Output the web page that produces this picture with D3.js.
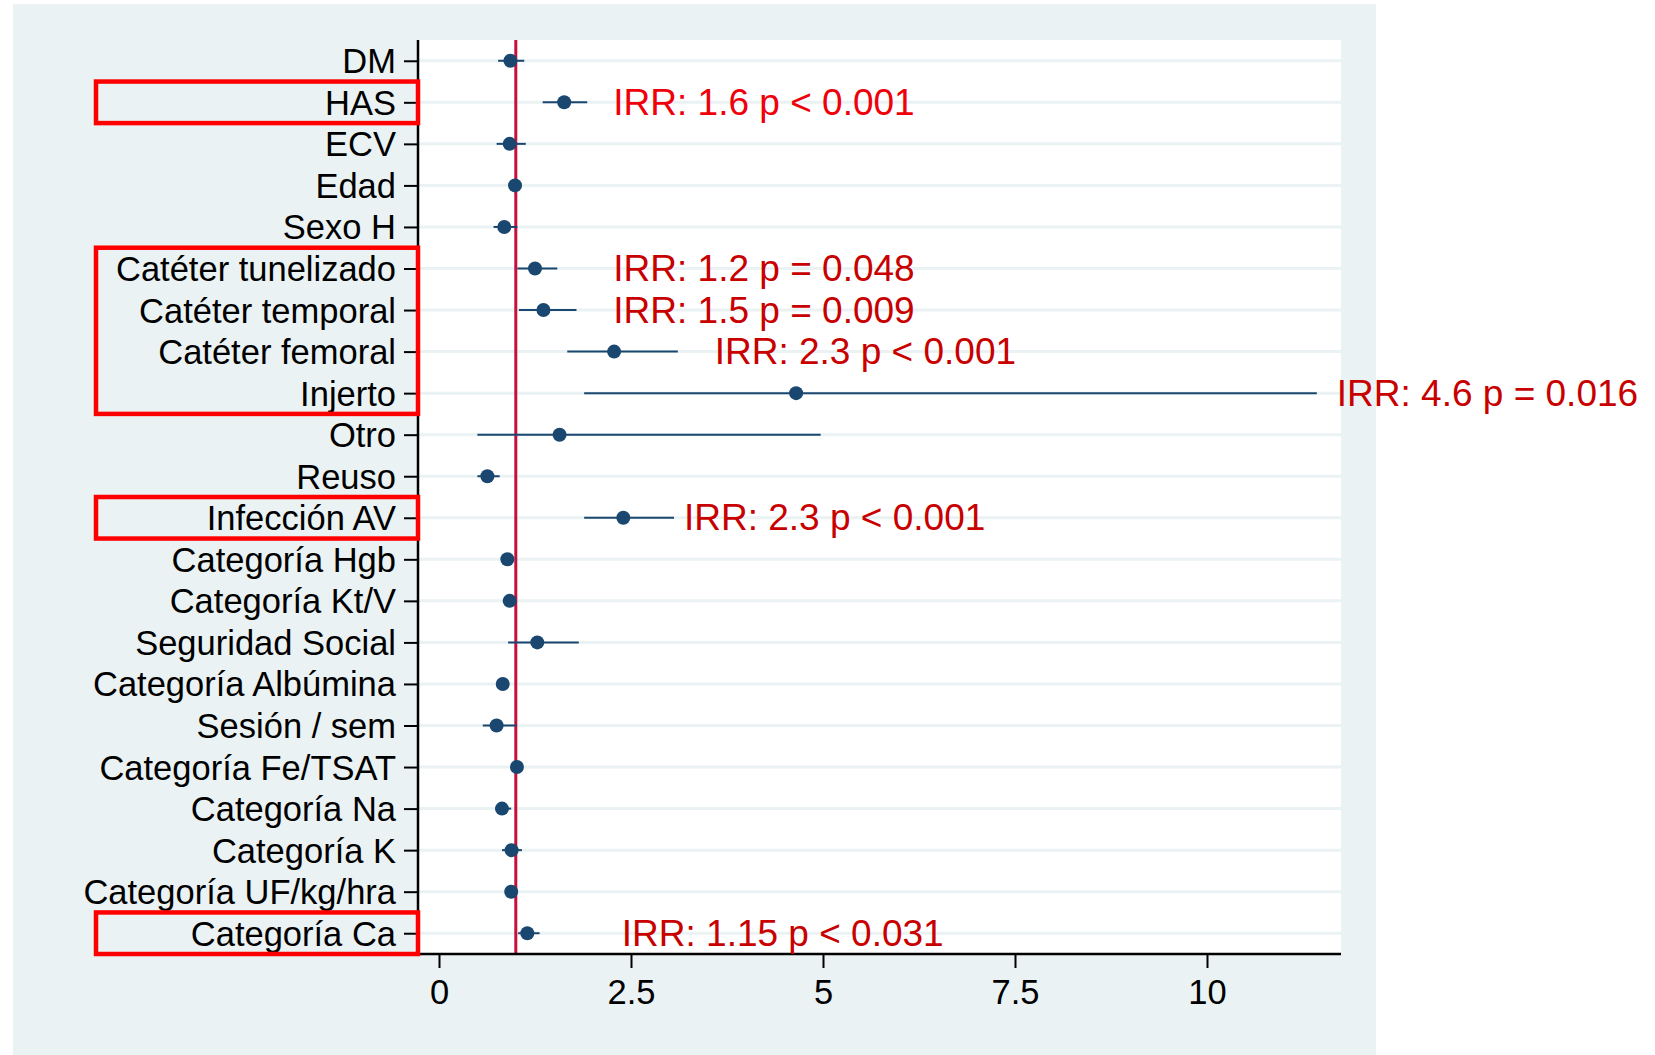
<!DOCTYPE html>
<html>
<head>
<meta charset="utf-8">
<script src="https://cdn.jsdelivr.net/npm/d3@7"></script>
<style>
    body { margin: 0; background: #ffffff; }
    text { font-family: "Liberation Sans", Arial, sans-serif; }
</style>
</head>
<body>
<svg id="chart" width="1655" height="1055"></svg>
<script>
// categories (top to bottom)
const categories = [
    "DM", "HAS", "ECV", "Edad", "Sexo H",
    "Catéter tunelizado", "Catéter temporal", "Catéter femoral", "Injerto", "Otro",
    "Reuso", "Infección AV", "Categoría Hgb", "Categoría Kt/V", "Seguridad Social",
    "Categoría Albúmina", "Sesión / sem", "Categoría Fe/TSAT", "Categoría Na",
    "Categoría K", "Categoría UF/kg/hra", "Categoría Ca"
];

// point estimates (IRR) and confidence limits
const irr = [0.93, 1.63, 0.92, 0.99, 0.85, 1.25, 1.36, 2.28, 4.65, 1.57, 0.63, 2.40,
    0.89, 0.92, 1.28, 0.83, 0.75, 1.015, 0.82, 0.945, 0.94, 1.15];
const lower = [0.77, 1.35, 0.75, 0.98, 0.71, 1.02, 1.04, 1.67, 1.89, 0.50, 0.50, 1.89,
    0.85, 0.87, 0.90, 0.80, 0.57, 1.00, 0.74, 0.82, 0.92, 1.03];
const upper = [1.11, 1.93, 1.13, 1.01, 1.02, 1.54, 1.79, 3.11, 11.43, 4.97, 0.79, 3.06,
    0.95, 0.98, 1.82, 0.88, 1.01, 1.03, 0.94, 1.08, 0.96, 1.31];

// x axis ticks
const xTicks = [0, 2.5, 5, 7.5, 10];

// annotations: category, text, x position (data units), colour
const noteRows = ["HAS", "Catéter tunelizado", "Catéter temporal", "Catéter femoral",
    "Injerto", "Infección AV", "Categoría Ca"];
const noteTexts = ["IRR: 1.6 p < 0.001", "IRR: 1.2 p = 0.048", "IRR: 1.5 p = 0.009",
    "IRR: 2.3 p < 0.001", "IRR: 4.6 p = 0.016", "IRR: 2.3 p < 0.001", "IRR: 1.15 p < 0.031"];
const noteX = [2.27, 2.27, 2.27, 3.59, 11.69, 3.19, 2.38];
const noteColors = ["#f0000a", "#c80000", "#c80000", "#c80000", "#c80000", "#c80000", "#c80000"];

// highlighted groups of rows: [first, last]
const boxGroups = [["HAS", "HAS"], ["Catéter tunelizado", "Injerto"],
    ["Infección AV", "Infección AV"], ["Categoría Ca", "Categoría Ca"]];

const svg = d3.select("#chart");

// plot region
const plotLeft = 418, plotRight = 1341, plotTop = 40, plotBottom = 954;

// graph background
svg.append("rect")
    .attr("x", 13).attr("y", 4)
    .attr("width", 1376 - 13).attr("height", 1055 - 4)
    .style("fill", "#eaf2f3");

svg.append("rect")
    .attr("x", plotLeft).attr("y", plotTop)
    .attr("width", plotRight - plotLeft).attr("height", plotBottom - plotTop)
    .style("fill", "#ffffff");

// scales
const xScale = d3.scaleLinear().domain([0, 10]).range([439, 1207]);
const yScale = d3.scalePoint().domain(categories).range([plotTop, plotBottom]).padding(0.5);
const step = yScale.step();

// grid lines
svg.append("g")
    .selectAll("line")
    .data(categories)
    .enter()
    .append("line")
    .attr("x1", plotLeft).attr("x2", plotRight)
    .attr("y1", (d) => yScale(d)).attr("y2", (d) => yScale(d))
    .style("stroke", "#eaf2f3")
    .style("stroke-width", 3);

// reference line at 1
svg.append("line")
    .attr("x1", xScale(1)).attr("x2", xScale(1))
    .attr("y1", plotTop).attr("y2", plotBottom)
    .style("stroke", "#c4103a")
    .style("stroke-width", 3);

// y axis
const yAxis = svg.append("g")
    .attr("transform", "translate(" + plotLeft + ",0)")
    .call(d3.axisLeft(yScale).tickSize(14).tickPadding(8));
yAxis.select(".domain").attr("d", "M0," + plotTop + "V" + plotBottom).style("stroke-width", 2.5);
yAxis.selectAll(".tick line").style("stroke-width", 2);
yAxis.selectAll(".tick text")
    .attr("dy", null)
    .attr("dominant-baseline", "central")
    .style("font-size", "34.5px")
    .style("fill", "#000");

// x axis
const xAxis = svg.append("g")
    .attr("transform", "translate(0," + plotBottom + ")")
    .call(d3.axisBottom(xScale).tickValues(xTicks).tickSize(14).tickPadding(12)
        .tickFormat((d) => String(d)));
xAxis.select(".domain").attr("d", "M" + plotLeft + ",0H" + plotRight).style("stroke-width", 2.5);
xAxis.selectAll(".tick line").style("stroke-width", 2);
xAxis.selectAll(".tick text")
    .style("font-size", "34.5px")
    .style("fill", "#000");

// confidence intervals
const rows = categories.map((c, i) => ({ c: c, est: irr[i], lo: lower[i], hi: upper[i] }));

svg.append("g")
    .selectAll("line")
    .data(rows)
    .enter()
    .append("line")
    .attr("x1", (d) => xScale(d.lo)).attr("x2", (d) => xScale(d.hi))
    .attr("y1", (d) => yScale(d.c)).attr("y2", (d) => yScale(d.c))
    .style("stroke", "#1a476f")
    .style("stroke-width", 2);

// point estimates
svg.append("g")
    .selectAll("circle")
    .data(rows)
    .enter()
    .append("circle")
    .attr("cx", (d) => xScale(d.est))
    .attr("cy", (d) => yScale(d.c))
    .attr("r", 7)
    .style("fill", "#1a476f");

// IRR annotations
svg.append("g")
    .selectAll("text")
    .data(noteTexts)
    .enter()
    .append("text")
    .attr("x", (d, i) => xScale(noteX[i]))
    .attr("y", (d, i) => yScale(noteRows[i]))
    .attr("dominant-baseline", "central")
    .style("font-size", "37px")
    .style("fill", (d, i) => noteColors[i])
    .text((d) => d);

// red highlight boxes round the labels
svg.append("g")
    .selectAll("rect")
    .data(boxGroups)
    .enter()
    .append("rect")
    .attr("x", 96)
    .attr("y", (d) => yScale(d[0]) - step / 2)
    .attr("width", plotLeft - 96)
    .attr("height", (d) => yScale(d[1]) - yScale(d[0]) + step)
    .style("fill", "none")
    .style("stroke", "#ff0000")
    .style("stroke-width", 4.5);
</script>
</body>
</html>
